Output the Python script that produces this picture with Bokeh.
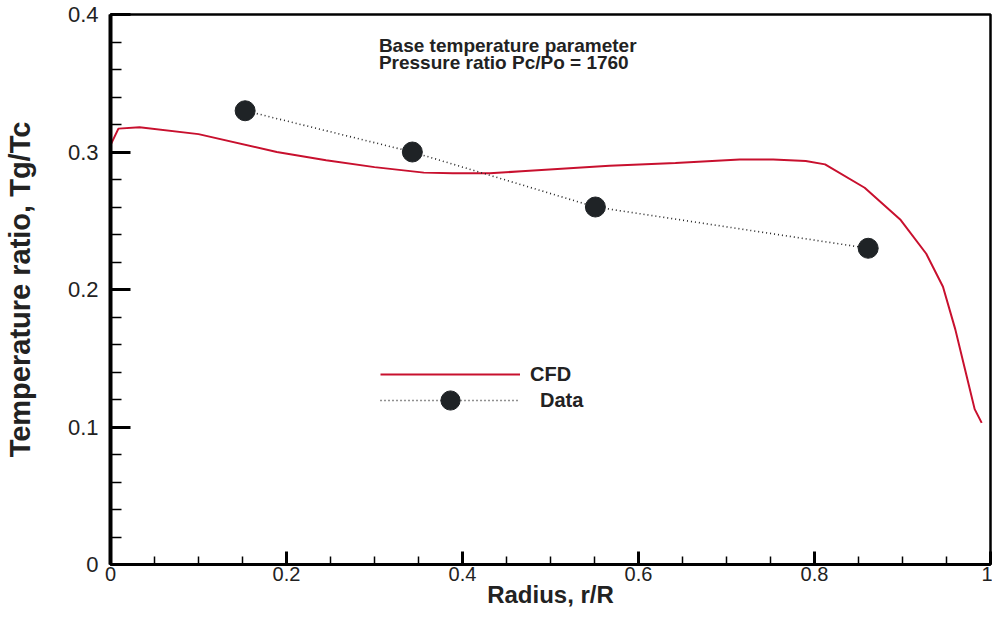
from bokeh.plotting import figure
from bokeh.models import (FixedTicker, NumeralTickFormatter, Legend, LegendItem, Label, Range1d)
from bokeh.embed import file_html
from bokeh.resources import INLINE

# CFD curve (r/R, Tg/Tc)
cfd_x = [0.0, 0.003, 0.009, 0.033, 0.10, 0.189, 0.245, 0.300, 0.356, 0.389, 0.431, 0.467,
         0.567, 0.642, 0.715, 0.753, 0.790, 0.812, 0.857, 0.898, 0.927, 0.946, 0.960,
         0.971, 0.982, 0.990]
cfd_y = [0.305, 0.309, 0.317, 0.318, 0.313, 0.300, 0.294, 0.289, 0.285, 0.2845, 0.2845, 0.286,
         0.290, 0.292, 0.2946, 0.2946, 0.2935, 0.291, 0.274, 0.2505, 0.226, 0.202, 0.171,
         0.142, 0.113, 0.103]

# Measured data
data_x = [0.153, 0.343, 0.551, 0.861]
data_y = [0.330, 0.300, 0.260, 0.230]

x_ticks = [0, 0.2, 0.4, 0.6, 0.8, 1.0]
x_minor = [0.05, 0.1, 0.15, 0.25, 0.3, 0.35, 0.45, 0.5, 0.55, 0.65, 0.7, 0.75, 0.85, 0.9, 0.95]
y_ticks = [0, 0.1, 0.2, 0.3, 0.4]
y_minor = [0.02, 0.04, 0.06, 0.08, 0.12, 0.14, 0.16, 0.18, 0.22, 0.24, 0.26, 0.28,
           0.32, 0.34, 0.36, 0.38]

FONT = "Liberation Sans"

p = figure(width=992, height=610, output_backend="svg", toolbar_location=None,
           x_range=Range1d(0, 1), y_range=Range1d(0, 0.4),
           min_border_left=110, min_border_top=14, min_border_right=2, min_border_bottom=0)
p.background_fill_color = "white"
p.border_fill_color = "white"
p.grid.visible = False
p.outline_line_color = "black"
p.outline_line_width = 2.5

# x axis
xa = p.xaxis[0]
xa.ticker = FixedTicker(ticks=x_ticks, minor_ticks=x_minor)
xa.formatter = NumeralTickFormatter(format="0.[0]")
xa.axis_line_width = 3
xa.major_tick_in = 13
xa.major_tick_out = 0
xa.major_tick_line_width = 3
xa.minor_tick_in = 8
xa.minor_tick_out = 0
xa.minor_tick_line_width = 1.5
xa.major_label_text_font = FONT
xa.major_label_text_font_size = "20px"
xa.major_label_text_color = "#222222"
xa.major_label_standoff = 2
xa.axis_label = "Radius, r/R"
xa.axis_label_text_font = FONT
xa.axis_label_text_font_style = "bold"
xa.axis_label_text_font_size = "24px"
xa.axis_label_text_color = "#222222"
xa.axis_label_standoff = -3

# y axis
ya = p.yaxis[0]
ya.ticker = FixedTicker(ticks=y_ticks, minor_ticks=y_minor)
ya.formatter = NumeralTickFormatter(format="0.[0]")
ya.axis_line_width = 4
ya.major_tick_in = 20
ya.major_tick_out = 0
ya.major_tick_line_width = 3
ya.minor_tick_in = 11
ya.minor_tick_out = 0
ya.minor_tick_line_width = 1.5
ya.major_label_text_font = FONT
ya.major_label_text_font_size = "22px"
ya.major_label_text_color = "#222222"
ya.major_label_standoff = 12
ya.axis_label = "Temperature ratio, Tg/Tc"
ya.axis_label_text_font = FONT
ya.axis_label_text_font_style = "bold"
ya.axis_label_text_font_size = "29px"
ya.axis_label_text_color = "#222222"
ya.axis_label_standoff = 29

cfd = p.line(cfd_x, cfd_y, line_color="#c8102e", line_width=2)
dline = p.line(data_x, data_y, line_color="#222222", line_width=1.6, line_dash="1 3")
dpts = p.scatter(data_x, data_y, marker="circle", size=20, fill_color="#1f2326",
                 line_color="#1f2326")

common = dict(orientation="vertical", glyph_width=140, spacing=0, padding=0, margin=0,
              border_line_color=None, background_fill_alpha=0,
              label_text_font=FONT, label_text_font_style="bold",
              label_text_font_size="20px", label_text_color="#222222")
legend_cfd = Legend(items=[LegendItem(label="CFD", renderers=[cfd])],
                    location=(270, 177), glyph_height=26, label_height=26,
                    label_standoff=10, **common)
legend_data = Legend(items=[LegendItem(label="Data", renderers=[dline, dpts])],
                     location=(270, 140), glyph_height=48, label_height=26,
                     label_standoff=20, **common)
p.add_layout(legend_cfd, "center")
p.add_layout(legend_data, "center")

p.add_layout(Label(x=0.305, y=0.3774, text="Base temperature parameter",
                   text_font=FONT, text_font_style="bold", text_font_size="19px",
                   text_baseline="middle", text_color="#222222"))
p.add_layout(Label(x=0.305, y=0.3650, text="Pressure ratio Pc/Po = 1760",
                   text_font=FONT, text_font_style="bold", text_font_size="19px",
                   text_baseline="middle", text_color="#222222"))

open("out.html", "w").write(file_html(p, INLINE))
